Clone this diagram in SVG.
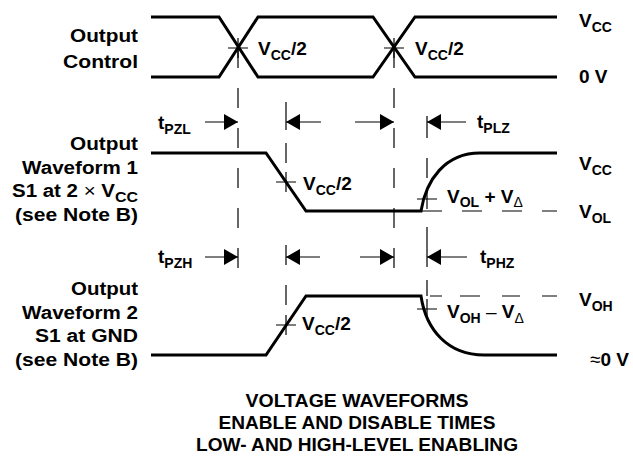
<svg xmlns="http://www.w3.org/2000/svg" width="633" height="462" viewBox="0 0 633 462">
<style>
text{font-family:"Liberation Sans",Arial,Helvetica,sans-serif;font-weight:bold;fill:#000}
.l{font-size:18px;text-anchor:end}
.m{font-size:19px}
.s{font-size:14px}
.n{font-weight:normal}
.t{font-size:17.5px;text-anchor:middle}
.w{fill:none;stroke:#000;stroke-width:3}
.d{fill:none;stroke:#000;stroke-width:1.2}
.a{fill:none;stroke:#000;stroke-width:1.2;marker-end:url(#ah)}
</style>
<defs>
<marker id="ah" markerUnits="userSpaceOnUse" markerWidth="15" markerHeight="17" refX="14" refY="8" orient="auto" viewBox="0 0 15 17"><path d="M0,0 L14,8 L0,16 Z" fill="#000"/></marker>
</defs>
<rect width="633" height="462" fill="#fff"/>

<g id="labels-left">
<text class="l" x="138" y="42" textLength="68" lengthAdjust="spacingAndGlyphs">Output</text>
<text class="l" x="138" y="68" textLength="75" lengthAdjust="spacingAndGlyphs">Control</text>
<text class="l" x="138" y="150" textLength="68" lengthAdjust="spacingAndGlyphs">Output</text>
<text class="l" x="138" y="174" textLength="116" lengthAdjust="spacingAndGlyphs">Waveform 1</text>
<text class="l" x="138" y="197" textLength="126" lengthAdjust="spacingAndGlyphs">S1 at 2 <tspan class="n">×</tspan> V<tspan class="s" dy="5">CC</tspan></text>
<text class="l" x="138" y="221" textLength="123" lengthAdjust="spacingAndGlyphs">(see Note B)</text>
<text class="l" x="138" y="295" textLength="67" lengthAdjust="spacingAndGlyphs">Output</text>
<text class="l" x="138" y="319" textLength="116" lengthAdjust="spacingAndGlyphs">Waveform 2</text>
<text class="l" x="138" y="342" textLength="103" lengthAdjust="spacingAndGlyphs">S1 at GND</text>
<text class="l" x="138" y="366" textLength="123" lengthAdjust="spacingAndGlyphs">(see Note B)</text>
</g>

<g id="waveforms">
<path class="w" d="M151,17H219L258,77H373L415,17H557"/>
<path class="w" d="M151,77H219L258,17H373L415,77H557"/>
<path class="w" d="M151,153H266L306,211H421C426,180 445,153 480,153H557"/>
<path class="w" d="M151,355H266L306,296H421C426,330 448,355 484,355H557"/>
</g>

<g id="connectors">
<path class="d" d="M238,48V68M238,88V108M238,128V148M238,168V188M238,208V228M238,248V268"/>
<path class="d" d="M394,48V68M394,88V108M394,128V148M394,168V188M394,208V228M394,248V268"/>
<path class="d" d="M286,102V130M286,143V163M286,245V265M286,285V305"/>
<path class="d" d="M427,116V138M427,158V178M427,227V267M427,280V296"/>
<path class="d" d="M422,211H442M462,211H482M502,211H522M542,211H557"/>
<path class="d" d="M430,296H442M460,296H480M502,296H520M542,296H557"/>
<path class="d" d="M228,48H248M238,38V58M384,48H404M394,38V58M276,182H296M286,172V192M417,199H437M427,189V209M276,325H296M286,315V335M417,309H437M427,299V319"/>
<line class="a" x1="205" y1="122" x2="238" y2="122"/>
<line class="a" x1="321" y1="122" x2="286" y2="122"/>
<line class="a" x1="355" y1="122" x2="394" y2="122"/>
<line class="a" x1="466" y1="122" x2="427" y2="122"/>
<line class="a" x1="205" y1="257" x2="238" y2="257"/>
<line class="a" x1="320" y1="257" x2="286" y2="257"/>
<line class="a" x1="360" y1="257" x2="394" y2="257"/>
<line class="a" x1="467" y1="257" x2="427" y2="257"/>
</g>

<g id="labels-mid">
<text class="m" x="258" y="55">V<tspan class="s" dy="5">CC</tspan><tspan dy="-5">/2</tspan></text>
<text class="m" x="415" y="55">V<tspan class="s" dy="5">CC</tspan><tspan dy="-5">/2</tspan></text>
<text class="m" x="303" y="190">V<tspan class="s" dy="5">CC</tspan><tspan dy="-5">/2</tspan></text>
<text class="m" x="302" y="330">V<tspan class="s" dy="5">CC</tspan><tspan dy="-5">/2</tspan></text>
<text class="m" x="447" y="203">V<tspan class="s" dy="4">OL</tspan><tspan dy="-4"> + V</tspan><tspan class="s n" dy="4">Δ</tspan></text>
<text class="m" x="447" y="318">V<tspan class="s" dy="5">OH</tspan><tspan class="n" dy="-5"> – </tspan>V<tspan class="s n" dy="5">Δ</tspan></text>
<text class="m" x="158" y="129">t<tspan class="s" dy="5">PZL</tspan></text>
<text class="m" x="477" y="128">t<tspan class="s" dy="5">PLZ</tspan></text>
<text class="m" x="158" y="263">t<tspan class="s" dy="5">PZH</tspan></text>
<text class="m" x="480" y="263">t<tspan class="s" dy="5">PHZ</tspan></text>
</g>

<g id="labels-right">
<text class="m" x="579" y="27">V<tspan class="s" dy="5">CC</tspan></text>
<text class="m" x="579" y="83">0 V</text>
<text class="m" x="579" y="170">V<tspan class="s" dy="5">CC</tspan></text>
<text class="m" x="579" y="218">V<tspan class="s" dy="5">OL</tspan></text>
<text class="m" x="579" y="306">V<tspan class="s" dy="5">OH</tspan></text>
<text class="m" x="590" y="366"><tspan class="n">≈</tspan>0 V</text>
</g>

<g id="title">
<text class="t" x="357" y="407" textLength="223" lengthAdjust="spacingAndGlyphs">VOLTAGE WAVEFORMS</text>
<text class="t" x="357" y="429" textLength="277" lengthAdjust="spacingAndGlyphs">ENABLE AND DISABLE TIMES</text>
<text class="t" x="357" y="451" textLength="322" lengthAdjust="spacingAndGlyphs">LOW- AND HIGH-LEVEL ENABLING</text>
</g>
</svg>
